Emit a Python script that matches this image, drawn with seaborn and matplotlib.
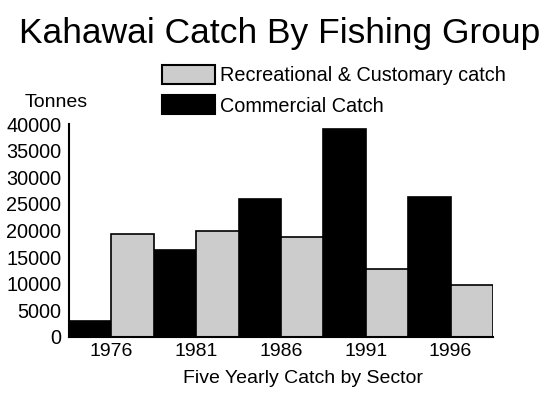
import matplotlib.pyplot as plt
import pandas as pd
import seaborn as sns

years = ['1976', '1981', '1986', '1991', '1996']
commercial = [3000, 16300, 26000, 39000, 26300]
recreational = [19300, 19900, 18700, 12800, 9700]
sectors = ['Commercial Catch', 'Recreational & Customary catch']

df = pd.DataFrame({
  'year': years * 2,
  'sector': [sectors[0]] * len(years) + [sectors[1]] * len(years),
  'tonnes': commercial + recreational,
})

sns.set_style('white')
plt.rcParams['font.family'] = ['Liberation Sans', 'DejaVu Sans']
plt.rcParams['text.color'] = 'black'
plt.rcParams['xtick.color'] = 'black'
plt.rcParams['ytick.color'] = 'black'

W, H = 550, 399
fig = plt.figure(figsize=(W / 100, H / 100), dpi=100)
ax = fig.add_axes([69 / W, 1 - 337 / H, (493 - 69) / W, (337 - 124) / H])

sns.barplot(data=df, x='year', y='tonnes', hue='sector',
            order=years, hue_order=sectors,
            palette=['black', '#cccccc'], saturation=1,
            width=1.0, gap=0, errorbar=None,
            edgecolor='black', linewidth=1.2, ax=ax)

ax.set_xlim(-0.5, 4.5)
ax.set_ylim(0, 40000)
ax.set_yticks(range(0, 40001, 5000))
ax.set_xlabel('')
ax.set_ylabel('')
ax.tick_params(axis='y', direction='in', length=9, width=1.5, labelsize=14.3, pad=5.5)
ax.tick_params(axis='x', length=0, labelsize=14, pad=4)
for s in ['top', 'right']:
  ax.spines[s].set_visible(False)
for s in ['left', 'bottom']:
  ax.spines[s].set_linewidth(1.5)
  ax.spines[s].set_color('black')

handles, labels = ax.get_legend_handles_labels()
ax.get_legend().remove()
for h in handles:
  h.set_edgecolor('black')
  h.set_linewidth(1.5)
fig.legend(handles[::-1], labels[::-1], loc='upper left',
           bbox_to_anchor=(162 / W, 1 - 65 / H), frameon=False, fontsize=14.3,
           handlelength=2.65, handleheight=1.1, handletextpad=0.25,
           labelspacing=0.5, borderpad=0, borderaxespad=0)

fig.text(279.5 / W, 1 - 43 / H, 'Kahawai Catch By Fishing Group',
         fontsize=25.5, ha='center', va='baseline')
fig.text(56 / W, 1 - 107 / H, 'Tonnes', fontsize=14, ha='center', va='baseline')
fig.text(303 / W, 1 - 383 / H, 'Five Yearly Catch by Sector',
         fontsize=14, ha='center', va='baseline')

fig.savefig('out.png', dpi=100)
